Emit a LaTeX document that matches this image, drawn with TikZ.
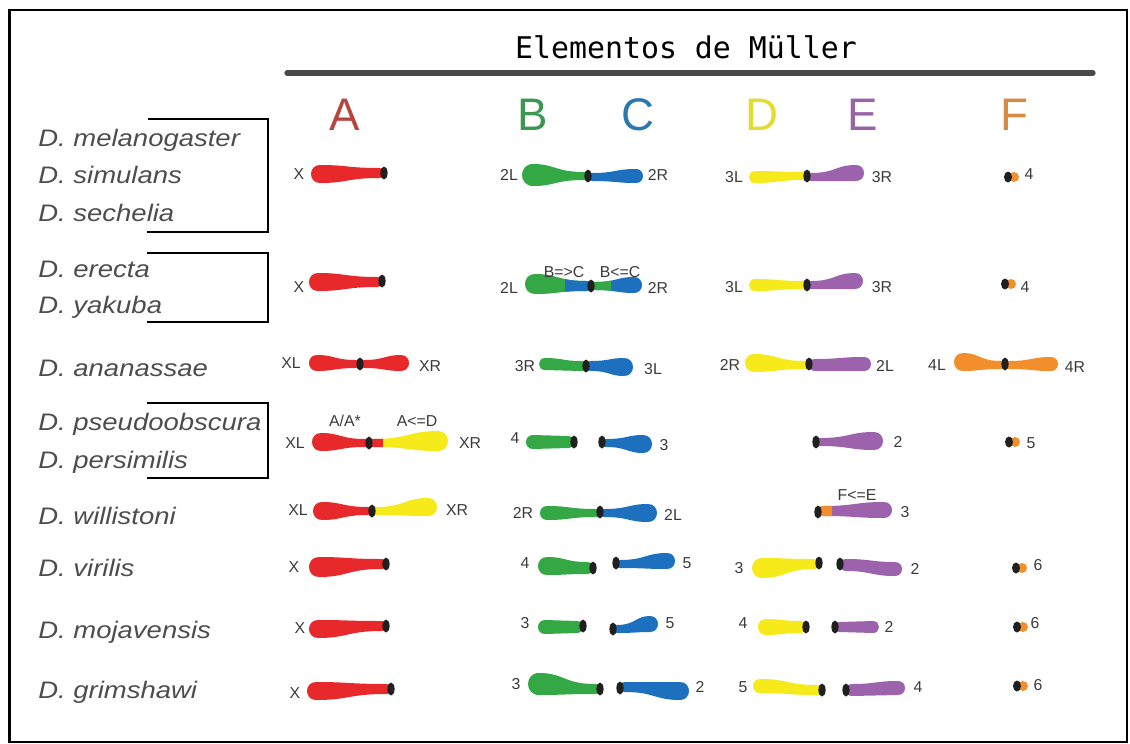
\documentclass[tikz,border=0pt]{standalone}
\usepackage{fontspec}
\setmainfont{Liberation Sans}
\newfontfamily\titlefont{DejaVu Sans Mono}
\newfontfamily\speciesfont{Liberation Sans}[FakeStretch=1.15]

\definecolor{cRed}{HTML}{E8292B}
\definecolor{cGreen}{HTML}{33A845}
\definecolor{cBlue}{HTML}{1D70BE}
\definecolor{cYellow}{HTML}{F7EA1A}
\definecolor{cPurple}{HTML}{9C62AC}
\definecolor{cOrange}{HTML}{F28E2B}
\definecolor{eA}{HTML}{B4463F}
\definecolor{eB}{HTML}{3C9850}
\definecolor{eC}{HTML}{2B78AE}
\definecolor{eD}{HTML}{E3DC30}
\definecolor{eE}{HTML}{9963A8}
\definecolor{eF}{HTML}{D88A45}
\definecolor{spgray}{HTML}{4D4D4D}
\definecolor{labgray}{HTML}{3A3A3A}
\definecolor{rulegray}{HTML}{4A4A4A}
\definecolor{cenblack}{HTML}{202020}

\tikzset{
  species/.style={anchor=base west, inner sep=0pt, text=spgray,
    font=\speciesfont\itshape\fontsize{13.6}{15}\selectfont},
  lab/.style={inner sep=0pt, text=labgray, font=\fontsize{9}{10}\selectfont},
  element/.style={anchor=base, inner sep=0pt, font=\fontsize{26}{28}\selectfont},
  bracket/.style={line width=1.1pt},
}

% colour, x1, x2, y1, y2, half width at x1, half width at x2
\newcommand{\chrarm}[7]{%
  \fill[#1] ({#2+#6},{#4-#6}) .. controls ({(#2+#3)/2},{#4-#6}) and ({(#2+#3)/2},{#5-#7}) .. ({#3-#7},{#5-#7})
    .. controls ({#3+0.33*#7},{#5-#7}) and ({#3+0.33*#7},{#5+#7}) .. ({#3-#7},{#5+#7})
    .. controls ({(#2+#3)/2},{#5+#7}) and ({(#2+#3)/2},{#4+#6}) .. ({#2+#6},{#4+#6})
    .. controls ({#2-0.33*#6},{#4+#6}) and ({#2-0.33*#6},{#4-#6}) .. cycle;}
\newcommand{\centro}[2]{\fill[cenblack] (#1,#2) ellipse [x radius=3.6, y radius=6.5];}
\newcommand{\dotF}[2]{%
  \fill[cOrange] ({#1+6},#2) circle [radius=5];
  \fill[cenblack] (#1,#2) ellipse [x radius=4, y radius=5.5];}
\newcommand{\chrlab}[4]{\node (#1) [lab] at (#2,#3) {#4};}

\begin{document}
\begin{tikzpicture}[x=0.02cm, y=-0.02cm]
\useasboundingbox (0,0) rectangle (1130,744);
\draw[line width=1.6pt] (9.5,10) rectangle (1127,742);

\node (title) [anchor=base, inner sep=0pt, font=\titlefont\fontsize{17}{19}\selectfont] at (686,58) {Elementos de Müller};
\draw[rulegray, line width=3pt, line cap=round] (287,73) -- (1093,73);

\node (A) [element, text=eA] at (345,130) {A};
\node (B) [element, text=eB] at (533,130) {B};
\node (C) [element, text=eC] at (638,130) {C};
\node (D) [element, text=eD] at (762,130) {D};
\node (E) [element, text=eE] at (863,130) {E};
\node (F) [element, text=eF] at (1014,130) {F};

\node (mel) [species] at (38,146) {D. melanogaster};
\node (sim) [species] at (38,183) {D. simulans};
\node (sec) [species] at (38,221) {D. sechelia};
\node (ere) [species] at (38,277) {D. erecta};
\node (yak) [species] at (38,313) {D. yakuba};
\node (ana) [species] at (38,376) {D. ananassae};
\node (pse) [species] at (38,430) {D. pseudoobscura};
\node (per) [species] at (38,468) {D. persimilis};
\node (wil) [species] at (38,524) {D. willistoni};
\node (vir) [species] at (38,576) {D. virilis};
\node (moj) [species] at (38,638) {D. mojavensis};
\node (gri) [species] at (38,698) {D. grimshawi};

\draw[bracket] (148,119) -- (268,119) -- (268,232) -- (147,232);
\draw[bracket] (147,253) -- (268,253) -- (268,322) -- (147,322);
\draw[bracket] (147,403) -- (268,403) -- (268,478) -- (147,478);

% melanogaster, simulans, sechelia
\chrarm{cRed}{311}{384}{174}{173}{9}{5}
\centro{384}{173}
\chrlab{x1}{299}{174}{X}
\chrarm{cGreen}{522}{588}{175}{176}{11}{4}
\chrarm{cBlue}{588}{643}{177}{176}{4}{7}
\centro{588}{176}
\chrlab{l2L1}{509}{175}{2L}
\chrlab{l2R1}{658}{175}{2R}
\chrarm{cYellow}{749}{807}{177}{176}{6}{4}
\chrarm{cPurple}{807}{864}{177}{173}{4}{8}
\centro{807}{176}
\chrlab{l3L1}{734}{177}{3L}
\chrlab{l3R1}{882}{177}{3R}
\dotF{1008}{177}
\chrlab{f1}{1029}{174}{4}

% erecta, yakuba
\chrarm{cRed}{309}{382}{282}{282}{9}{5}
\centro{382}{281}
\chrlab{x2}{299}{287}{X}
\chrarm{cGreen}{525}{591}{284}{286}{10}{5}
\begin{scope}
  \clip (565,250) rectangle (600,320);
  \chrarm{cBlue}{525}{591}{284}{286}{10}{5}
\end{scope}
\chrarm{cBlue}{591}{642}{286}{285}{4}{8}
\begin{scope}
  \clip (580,250) rectangle (611,320);
  \chrarm{cGreen}{591}{642}{286}{285}{4}{8}
\end{scope}
\centro{591}{286}
\chrlab{l2L2}{509}{288}{2L}
\chrlab{l2R2}{658}{288}{2R}
\chrlab{bc1}{564}{272}{B=>C}
\chrlab{bc2}{620}{272}{B<=C}
\chrarm{cYellow}{749}{807}{285}{285}{6}{4}
\chrarm{cPurple}{807}{863}{285}{281}{4}{8}
\centro{807}{285}
\chrlab{l3L2}{734}{287}{3L}
\chrlab{l3R2}{882}{287}{3R}
\dotF{1005}{284}
\chrlab{f2}{1025}{287}{4}

% ananassae
\chrarm{cRed}{309}{360}{363}{364}{8}{4}
\chrarm{cRed}{360}{409}{364}{363}{4}{8}
\centro{360}{364}
\chrlab{xl3}{291}{363}{XL}
\chrlab{xr3}{430}{366}{XR}
\chrarm{cGreen}{539}{586}{364}{366}{6}{5}
\chrarm{cBlue}{586}{633}{366}{367}{5}{9}
\centro{586}{366}
\chrlab{l3R3}{525}{366}{3R}
\chrlab{l3L3}{653}{369}{3L}
\chrarm{cYellow}{745}{809}{363}{365}{9}{4}
\chrarm{cPurple}{809}{871}{365}{364}{6}{7}
\centro{809}{364}
\chrlab{l2R3}{730}{365}{2R}
\chrlab{l2L3}{885}{366}{2L}
\chrarm{cOrange}{954}{1005}{362}{365}{9}{4}
\chrarm{cOrange}{1005}{1058}{365}{364}{4}{7}
\centro{1005}{364}
\chrlab{l4L3}{937}{365}{4L}
\chrlab{l4R3}{1075}{367}{4R}

% pseudoobscura, persimilis
\chrarm{cRed}{312}{369}{442}{443}{9}{4}
\chrarm{cYellow}{369}{448}{443}{441}{4}{10}
\begin{scope}
  \clip (360,420) rectangle (383,465);
  \chrarm{cRed}{369}{448}{443}{441}{4}{10}
\end{scope}
\centro{369}{443}
\chrlab{xl4}{295}{443}{XL}
\chrlab{xr4}{470}{443}{XR}
\chrlab{aa4}{345}{421}{A/A*}
\chrlab{ad4}{417}{421}{A<=D}
\chrarm{cGreen}{526}{574}{442}{442}{7}{6}
\centro{574}{442}
\chrarm{cBlue}{602}{652}{443}{444}{4}{9}
\centro{602}{442}
\chrlab{b4}{515}{438}{4}
\chrlab{c4}{664}{445}{3}
\chrarm{cPurple}{816}{883}{442}{441}{4}{9}
\centro{816}{442}
\chrlab{e4}{898}{442}{2}
\dotF{1009}{442}
\chrlab{f4}{1031}{443}{5}

% willistoni
\chrarm{cRed}{313}{372}{511}{511}{9}{4}
\chrarm{cYellow}{372}{437}{511}{507}{4}{9}
\centro{372}{511}
\chrlab{xl5}{298}{510}{XL}
\chrlab{xr5}{457}{510}{XR}
\chrarm{cGreen}{540}{600}{513}{513}{7}{4}
\chrarm{cBlue}{600}{657}{513}{513}{4}{9}
\centro{600}{512}
\chrlab{l2R5}{523}{513}{2R}
\chrlab{l2L5}{673}{515}{2L}
\chrarm{cPurple}{818}{892}{511}{510}{5}{8}
\begin{scope}
  \clip (810,490) rectangle (832,530);
  \chrarm{cOrange}{818}{892}{511}{510}{5}{8}
\end{scope}
\centro{818}{512}
\chrlab{fe5}{857}{495}{F<=E}
\chrlab{e5}{905}{512}{3}

% virilis
\chrarm{cRed}{309}{386}{567}{564}{10}{5}
\centro{386}{564}
\chrlab{x6}{294}{567}{X}
\chrarm{cGreen}{538}{593}{566}{568}{9}{6}
\centro{593}{568}
\chrarm{cBlue}{616}{675}{564}{561}{4}{8}
\centro{616}{563}
\chrlab{b6}{525}{563}{4}
\chrlab{c6}{687}{563}{5}
\chrarm{cYellow}{752}{819}{568}{564}{10}{5}
\centro{819}{563}
\chrarm{cPurple}{840}{902}{565}{569}{6}{7}
\centro{840}{564}
\chrlab{d6}{739}{568}{3}
\chrlab{e6}{915}{569}{2}
\dotF{1016}{568}
\chrlab{f6}{1038}{565}{6}

% mojavensis
\chrarm{cRed}{309}{386}{629}{626}{9}{5}
\centro{386}{626}
\chrlab{x7}{300}{628}{X}
\chrarm{cGreen}{538}{583}{627}{627}{7}{6}
\centro{583}{626}
\chrarm{cBlue}{613}{658}{629}{624}{4}{8}
\centro{613}{629}
\chrlab{b7}{525}{623}{3}
\chrlab{c7}{670}{623}{5}
\chrarm{cYellow}{758}{806}{627}{627}{8}{6}
\centro{806}{627}
\chrarm{cPurple}{835}{879}{627}{627}{5}{6}
\centro{835}{627}
\chrlab{d7}{743}{623}{4}
\chrlab{e7}{889}{627}{2}
\dotF{1017}{627}
\chrlab{f7}{1035}{623}{6}

% grimshawi
\chrarm{cRed}{307}{391}{691}{689}{9}{5}
\centro{391}{689}
\chrlab{x8}{295}{693}{X}
\chrarm{cGreen}{528}{600}{684}{689}{11}{5}
\centro{600}{689}
\chrarm{cBlue}{620}{689}{687}{691}{5}{9}
\centro{620}{688}
\chrlab{b8}{516}{684}{3}
\chrlab{c8}{700}{687}{2}
\chrarm{cYellow}{753}{822}{686}{690}{7}{5}
\centro{822}{690}
\chrarm{cPurple}{846}{905}{690}{688}{6}{7}
\centro{846}{690}
\chrlab{d8}{743}{687}{5}
\chrlab{e8}{918}{687}{4}
\dotF{1017}{686}
\chrlab{f8}{1038}{685}{6}
\end{tikzpicture}
\end{document}
